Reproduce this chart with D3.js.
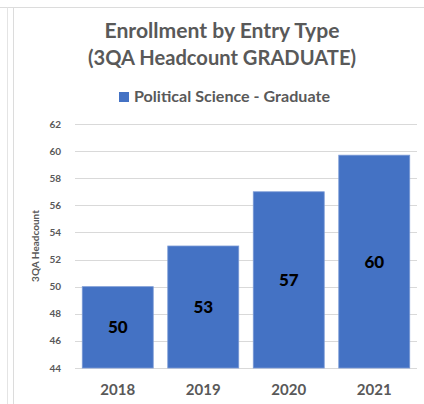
<!DOCTYPE html>
<html>
<head>
<meta charset="utf-8">
<script src="https://cdn.jsdelivr.net/npm/d3@7"></script>
<style>
  body { margin: 0; background: #fff; }
  text { font-family: Lato, "Open Sans", sans-serif; }
</style>
</head>
<body>
<svg id="chart" width="424" height="404"></svg>
<script>
var years = ["2018", "2019", "2020", "2021"],
    headcount = [50, 53, 57, 59.7],
    yTicks = [44, 46, 48, 50, 52, 54, 56, 58, 60, 62],
    seriesName = "Political Science - Graduate",
    titleLines = ["Enrollment by Entry Type", "(3QA Headcount GRADUATE)"],
    yTitle = "3QA Headcount";

var svg = d3.select("#chart"),
    barColor = "#4472c4",
    textGray = "#595959",
    gridColor = "#d9d9d9";

// frame lines (sheet edge + chart border)
svg.append("line").attr("x1", 0).attr("x2", 424).attr("y1", 7.5).attr("y2", 7.5)
    .attr("stroke", "#dcdcdc")
svg.append("line").attr("x1", 7.5).attr("x2", 7.5).attr("y1", 7.5).attr("y2", 404)
    .attr("stroke", "#e4e4e4")
svg.append("line").attr("x1", 13.5).attr("x2", 13.5).attr("y1", 7.5).attr("y2", 404)
    .attr("stroke", "#dcdcdc")

var x = d3.scaleBand().domain(years).range([75, 417]).paddingInner(0.17).paddingOuter(0.085),
    y = d3.scaleLinear().domain([44, 62]).range([368, 124]);

// gridlines
svg.append("g").selectAll("line")
    .data(yTicks)
    .enter().append("line")
    .attr("x1", 75).attr("x2", 417)
    .attr("y1", d => Math.round(y(d)) + 0.5)
    .attr("y2", d => Math.round(y(d)) + 0.5)
    .attr("stroke", gridColor)

// y tick labels
svg.append("g").selectAll("text")
    .data(yTicks)
    .enter().append("text")
    .attr("x", 61)
    .attr("y", d => y(d) + 3.5)
    .attr("text-anchor", "end")
    .attr("fill", textGray)
    .style("font-size", "10px")
    .style("font-weight", "bold")
    .text(d => d)

// bars
svg.append("g").selectAll("rect")
    .data(headcount)
    .enter().append("rect")
    .attr("x", (d, i) => x(years[i]))
    .attr("y", d => y(d))
    .attr("width", x.bandwidth())
    .attr("height", d => y(44) - y(d))
    .attr("fill", barColor)
    .attr("stroke", "#7a9ad6")
    .attr("stroke-width", 0.8)

// value labels, centred in bars
svg.append("g").selectAll("text")
    .data(headcount)
    .enter().append("text")
    .attr("x", (d, i) => x(years[i]) + x.bandwidth() / 2)
    .attr("y", d => (y(d) + y(44)) / 2 + 6)
    .attr("text-anchor", "middle")
    .attr("fill", "#000")
    .style("font-size", "17px")
    .style("font-weight", "900")
    .text(d => Math.round(d))

// x labels
svg.append("g").selectAll("text")
    .data(years)
    .enter().append("text")
    .attr("x", d => x(d) + x.bandwidth() / 2)
    .attr("y", 395)
    .attr("text-anchor", "middle")
    .attr("fill", textGray)
    .style("font-size", "15px")
    .style("font-weight", "bold")
    .text(d => d)

// y axis title
svg.append("text")
    .attr("transform", "translate(39,246) rotate(-90)")
    .attr("text-anchor", "middle")
    .attr("fill", textGray)
    .style("font-size", "10px")
    .style("font-weight", "bold")
    .text(yTitle)

// title
var titleWidths = [235, 268];
svg.append("g").selectAll("text")
    .data(titleLines)
    .enter().append("text")
    .attr("x", 222)
    .attr("y", (d, i) => 38 + i * 27)
    .attr("text-anchor", "middle")
    .attr("fill", textGray)
    .attr("textLength", (d, i) => titleWidths[i])
    .attr("lengthAdjust", "spacingAndGlyphs")
    .style("font-size", "20.5px")
    .style("font-weight", "bold")
    .text(d => d)

// legend
svg.append("rect").attr("x", 119).attr("y", 92).attr("width", 10).attr("height", 10)
    .attr("fill", barColor)
svg.append("text")
    .attr("x", 134).attr("y", 101.5)
    .attr("fill", textGray)
    .attr("textLength", 196)
    .attr("lengthAdjust", "spacingAndGlyphs")
    .style("font-size", "15px")
    .style("font-weight", "bold")
    .text(seriesName)
</script>
</body>
</html>
